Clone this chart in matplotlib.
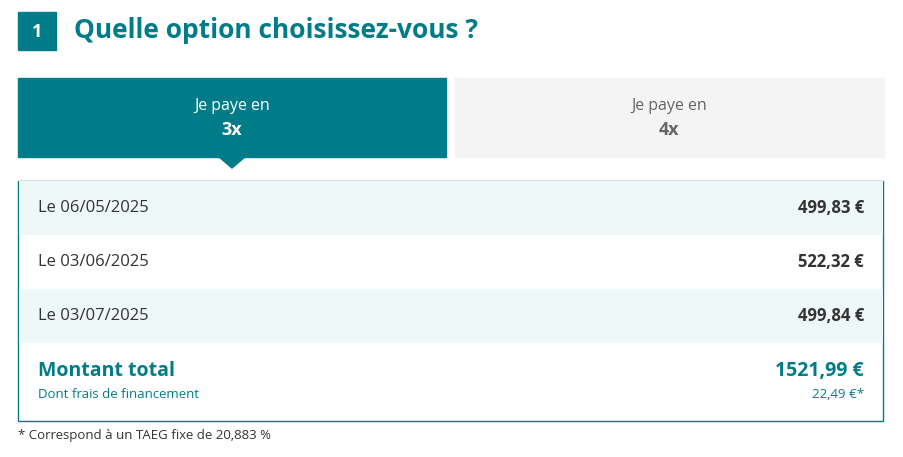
import matplotlib
matplotlib.use("Agg")
import matplotlib.pyplot as plt
from matplotlib.patches import Rectangle, Polygon

title = "Quelle option choisissez-vous ?"
step = "1"
tab_labels = ["Je paye en", "Je paye en"]
tab_counts = ["3x", "4x"]
dates = ["Le 06/05/2025", "Le 03/06/2025", "Le 03/07/2025"]
amounts = ["499,83 €", "522,32 €", "499,84 €"]
total_label = "Montant total"
total_value = "1521,99 €"
fees_label = "Dont frais de financement"
fees_value = "22,49 €*"
footnote = "* Correspond à un TAEG fixe de 20,883 %"

TEAL = "#007c89"
DARK = "#333333"
FONT = "Open Sans"

fig = plt.figure(figsize=(9.04, 4.57), dpi=100)
ax = fig.add_axes([0, 0, 1, 1])
ax.set_xlim(0, 904)
ax.set_ylim(457, 0)
ax.axis("off")

# header
ax.add_patch(Rectangle((18, 12), 38, 38, color=TEAL))
ax.text(37, 32, step, color="white", fontsize=13, fontweight="bold", ha="center", va="center", family=FONT)
ax.text(74, 31, title, color=TEAL, fontsize=19, fontweight="bold", ha="left", va="center", family=FONT)

# tabs
ax.add_patch(Rectangle((18, 78), 428, 79, color=TEAL))
ax.add_patch(Polygon([[219, 157], [245, 157], [232, 168]], color=TEAL))
ax.add_patch(Rectangle((455, 78), 429, 79, color="#f4f4f4"))
for i, (cx, col) in enumerate([(232, "white"), (669, "#666666")]):
    ax.text(cx, 106, tab_labels[i], color=col, fontsize=11.5, ha="center", va="center", family=FONT)
    ax.text(cx, 130, tab_counts[i], color=col, fontsize=13, fontweight="bold", ha="center", va="center", family=FONT)

# table
ax.add_patch(Rectangle((18.5, 180.5), 865, 240, fill=False, edgecolor=TEAL, lw=1))
row_h = 54
for i, (d, a) in enumerate(zip(dates, amounts)):
    y0 = 181 + i * row_h
    if i % 2 == 0:
        ax.add_patch(Rectangle((19, y0), 864, row_h, color="#eff8f8", lw=0))
    yc = y0 + row_h / 2
    ax.text(38, yc, d, color=DARK, fontsize=12, ha="left", va="center", family=FONT)
    ax.text(864, yc, a, color=DARK, fontsize=12, fontweight="bold", ha="right", va="center", family=FONT)

ax.text(38, 371, total_label, color=TEAL, fontsize=14, fontweight="bold", ha="left", va="center", family=FONT)
ax.text(38, 394, fees_label, color=TEAL, fontsize=9.5, ha="left", va="center", family=FONT)
ax.text(864, 371, total_value, color=TEAL, fontsize=14, fontweight="bold", ha="right", va="center", family=FONT)
ax.text(864, 394, fees_value, color=TEAL, fontsize=9.5, ha="right", va="center", family=FONT)

ax.text(18, 436, footnote, color=DARK, fontsize=9.5, ha="left", va="center", family=FONT)

fig.savefig("out.png", dpi=100)
